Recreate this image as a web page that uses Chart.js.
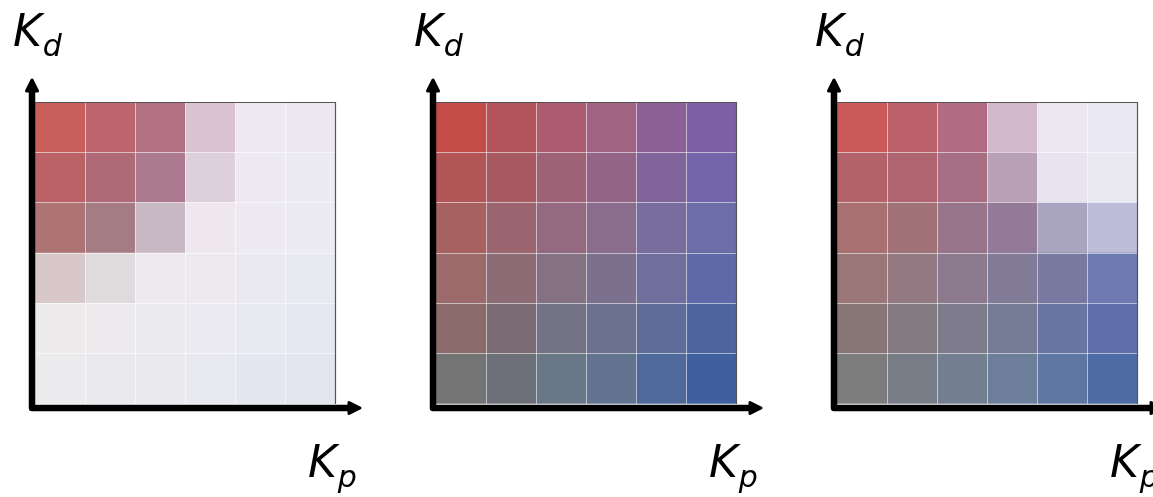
<!DOCTYPE html>
<html lang="en">
<head>
  <meta charset="UTF-8" />
  <title>Kp / Kd grids</title>
  <script src="https://cdn.jsdelivr.net/npm/chart.js"></script>
  <style>
    html, body {
      margin: 0;
      width: 1153px;
      height: 497px;
      overflow: hidden;
      background: #fff;
    }
    .panel {
      position: absolute;
      top: 0;
      width: 384px;
      height: 497px;
    }
    .panel canvas {
      position: absolute;
      left: 0;
      top: 0;
    }
    .lbl {
      position: absolute;
      font-family: 'DejaVu Sans', sans-serif;
      font-style: italic;
      font-size: 44px;
      line-height: 44px;
      color: #000;
      white-space: nowrap;
    }
    .lbl sub {
      font-size: 30px;
      vertical-align: -10px;
      margin-left: 1px;
    }
    .kd { left: 13px; top: 9px; }
    .kp { left: 308px; top: 440px; }
  </style>
</head>
<body>
  <div class="panel" style="left:0px">
    <canvas id="grid1" width="384" height="497"></canvas>
    <div class="lbl kd">K<sub>d</sub></div>
    <div class="lbl kp">K<sub>p</sub></div>
  </div>
  <div class="panel" style="left:401px">
    <canvas id="grid2" width="384" height="497"></canvas>
    <div class="lbl kd">K<sub>d</sub></div>
    <div class="lbl kp">K<sub>p</sub></div>
  </div>
  <div class="panel" style="left:802px">
    <canvas id="grid3" width="384" height="497"></canvas>
    <div class="lbl kd">K<sub>d</sub></div>
    <div class="lbl kp">K<sub>p</sub></div>
  </div>

  <script>
    // Kp along x, Kd along y (rows listed top = highest Kd)
    const kpLevels = ['1', '2', '3', '4', '5', '6'];
    const kdLevels = ['6', '5', '4', '3', '2', '1'];

    // cell colours, one row per Kd level, left to right in Kp
    const colorsLeft = [
      ['#C85F5A', '#BE646C', '#B27182', '#D9C3D0', '#EEE8F0', '#EBE8F2'],
      ['#BA6266', '#AE6A76', '#AC7A8E', '#DDD0DC', '#EEEAF1', '#ECEAF2'],
      ['#AE7474', '#A67C84', '#C8B8C4', '#EEE8EE', '#EEEAF2', '#ECEBF3'],
      ['#D8C8CA', '#DFDADC', '#EEE9EE', '#EDE9EF', '#EAE9F1', '#E9E9F2'],
      ['#EEEBEC', '#EDEBEE', '#EBEAEF', '#EAEAF0', '#E8E9F1', '#E6E8F1'],
      ['#EBEAEC', '#EAE9ED', '#E9E9EE', '#E8E8EF', '#E5E7F0', '#E3E6EF']
    ];
    const colorsMid = [
      ['#C44C48', '#B3545A', '#AC5B70', '#A06482', '#8C5F96', '#7B60A6'],
      ['#B25556', '#A85A63', '#9D6275', '#946487', '#81659A', '#7465A8'],
      ['#A7625F', '#9B6570', '#95697F', '#8A6C8C', '#786D9C', '#6D6DA8'],
      ['#9C6A6A', '#8D6C76', '#847284', '#7B718E', '#6E6F9C', '#6069A8'],
      ['#8A6B6A', '#7C6C76', '#747385', '#6D7190', '#5E6C9A', '#4E64A0'],
      ['#747474', '#6D7078', '#697787', '#627490', '#4F699A', '#3F5F9E']
    ];
    const colorsRight = [
      ['#C95A58', '#BC616A', '#B26B82', '#D2B8CB', '#ECE8F1', '#EAE8F2'],
      ['#B3626A', '#AE6570', '#A86E84', '#B8A0B6', '#E8E4EF', '#E9E8F1'],
      ['#A87070', '#A07278', '#98758A', '#927A98', '#A9A4BF', '#BDBCD9'],
      ['#9A7676', '#937982', '#8B7A8E', '#817B98', '#7978A0', '#6E79B0'],
      ['#887676', '#837A82', '#7E7C8C', '#767C96', '#6875A0', '#5F6FAC'],
      ['#7C7C7C', '#787C86', '#737F90', '#6C7E9A', '#5E76A2', '#4E6DA6']
    ];

    // thick black axes with arrow heads, plus the thin frame on top/right
    const axesPlugin = {
      id: 'axesArrows',
      afterDraw(chart) {
        const { ctx, chartArea: a } = chart;
        ctx.save();
        ctx.strokeStyle = '#555';
        ctx.lineWidth = 1.2;
        ctx.beginPath();
        ctx.moveTo(a.left, a.top + 0.5);
        ctx.lineTo(a.right - 0.5, a.top + 0.5);
        ctx.lineTo(a.right - 0.5, a.bottom);
        ctx.stroke();

        const ax = a.left - 3;
        const ay = a.bottom + 4;
        ctx.strokeStyle = '#000';
        ctx.fillStyle = '#000';
        ctx.lineWidth = 6.5;
        ctx.lineCap = 'round';
        ctx.lineJoin = 'round';
        ctx.beginPath();
        ctx.moveTo(ax, a.top - 16);
        ctx.lineTo(ax, ay);
        ctx.lineTo(a.right + 18, ay);
        ctx.stroke();

        ctx.lineWidth = 3;
        ctx.beginPath();
        ctx.moveTo(ax, a.top - 22);
        ctx.lineTo(ax - 5.5, a.top - 11);
        ctx.lineTo(ax + 5.5, a.top - 11);
        ctx.closePath();
        ctx.fill();
        ctx.stroke();

        ctx.beginPath();
        ctx.moveTo(a.right + 24, ay);
        ctx.lineTo(a.right + 13, ay - 5.5);
        ctx.lineTo(a.right + 13, ay + 5.5);
        ctx.closePath();
        ctx.fill();
        ctx.stroke();
        ctx.restore();
      }
    };

    function makeGrid(id, colors) {
      // bottom row first so the stack builds upward
      const datasets = kdLevels.slice().reverse().map((kd, i) => {
        const row = colors[colors.length - 1 - i];
        return {
          label: 'Kd ' + kd,
          data: kpLevels.map(() => 1),
          backgroundColor: row,
          borderWidth: 0,
          barPercentage: 1,
          categoryPercentage: 1
        };
      });

      new Chart(document.getElementById(id), {
        type: 'bar',
        data: { labels: kpLevels, datasets: datasets },
        options: {
          responsive: false,
          animation: false,
          layout: { padding: { left: 35, top: 102, right: 48, bottom: 93 } },
          plugins: { legend: { display: false }, tooltip: { enabled: false } },
          scales: {
            x: {
              stacked: true,
              ticks: { display: false },
              border: { display: false },
              grid: { offset: true, drawTicks: false, tickLength: 0, z: 1,
                      color: 'rgba(255,255,255,0.55)', lineWidth: 1 }
            },
            y: {
              stacked: true,
              min: 0,
              max: 6,
              ticks: { display: false, stepSize: 1 },
              border: { display: false },
              grid: { drawTicks: false, tickLength: 0, z: 1,
                      color: 'rgba(255,255,255,0.55)', lineWidth: 1 }
            }
          }
        },
        plugins: [axesPlugin]
      });
    }

    makeGrid('grid1', colorsLeft);
    makeGrid('grid2', colorsMid);
    makeGrid('grid3', colorsRight);
  </script>
</body>
</html>
